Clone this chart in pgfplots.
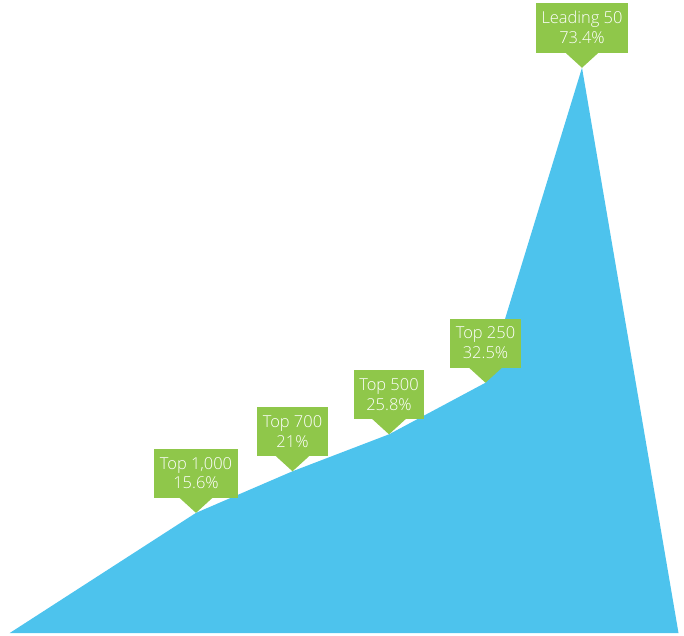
\documentclass[border=0pt]{standalone}
\usepackage{pgfplots}
\pgfplotsset{compat=1.18}
\usepackage{fontspec}
\setmainfont{Open Sans Light}
\definecolor{areablue}{HTML}{4DC3ED}
\definecolor{boxgreen}{HTML}{8FC74A}
\pgfdeclareplotmark{pointer}{%
  \pgfpathmoveto{\pgfpoint{0bp}{0bp}}%
  \pgfpathlineto{\pgfpoint{-17bp}{15.5bp}}%
  \pgfpathlineto{\pgfpoint{17bp}{15.5bp}}%
  \pgfpathclose\pgfusepathqfill}
\begin{document}
\begin{tikzpicture}
\begin{axis}[
  scale only axis, width=684bp, height=635bp,
  xmin=-0.031, xmax=7.057, ymin=-0.26, ymax=82.2,
  axis lines=none, ticks=none, clip=false,
]
\addplot[fill=areablue, draw=none] coordinates {
  (0.07,0) (2,15.6) (3,21) (4,25.8) (5,32.5) (6,73.4) (7,0)
} -- cycle;
\addplot[only marks, mark=pointer, mark options={fill=boxgreen, draw=none},
  point meta=explicit symbolic,
  nodes near coords,
  every node near coord/.style={
    fill=boxgreen, text=white,
    font=\fontsize{16.5}{20}\selectfont, align=center,
    inner xsep=5.5bp, inner ysep=8.5bp,
    anchor=south, yshift=15bp}]
coordinates {
  (2,15.6) [Top 1,000\\15.6\%]
  (3,21) [Top 700\\21\%]
  (4,25.8) [Top 500\\25.8\%]
  (5,32.5) [Top 250\\32.5\%]
  (6,73.4) [Leading 50\\73.4\%]
};
\end{axis}
\path (current axis.south west) rectangle (current axis.north east);
\end{tikzpicture}
\end{document}
